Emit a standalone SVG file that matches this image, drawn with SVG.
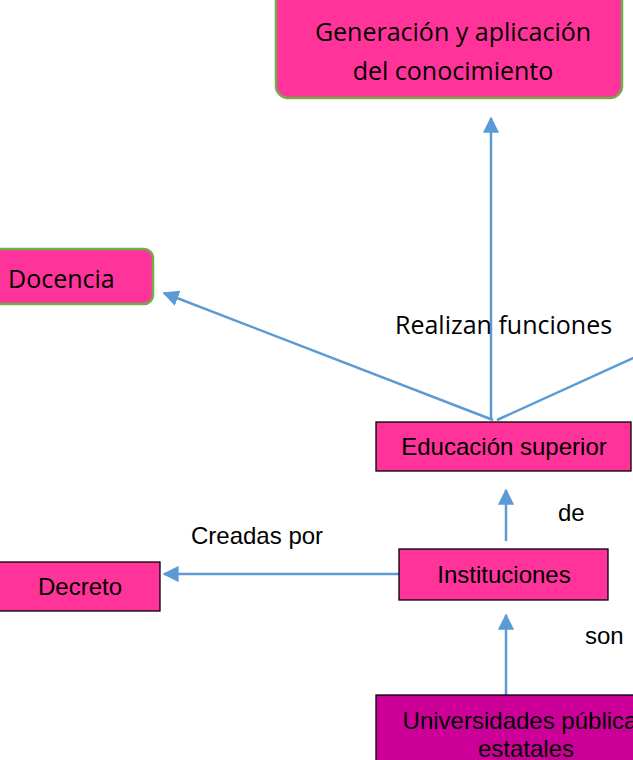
<svg xmlns="http://www.w3.org/2000/svg" width="633" height="760" viewBox="0 0 633 760">
<defs>
<style>
.rnd{fill:#FF3399;stroke:#70AD47;stroke-width:2.5}
.sq{fill:#FF3399;stroke:#000;stroke-width:1.3}
.sq2{fill:#CC0099;stroke:#000;stroke-width:1.3}
.cal{font-family:"Open Sans","Liberation Sans",sans-serif;font-size:25px;fill:#000}
.ari{font-family:"Liberation Sans",Arial,sans-serif;font-size:24px;fill:#000}
.ln{stroke:#5B9BD5;stroke-width:2.5;fill:none}
</style>
<marker id="ah" viewBox="0 0 10 10" refX="9" refY="5" markerWidth="6.5" markerHeight="6.5" markerUnits="strokeWidth" orient="auto">
<path d="M0,0 L10,5 L0,10 z" fill="#5B9BD5"/>
</marker>
</defs>
<g id="connectors">
<line class="ln" x1="491" y1="420" x2="491" y2="118" marker-end="url(#ah)"/>
<line class="ln" x1="493" y1="420" x2="164" y2="293" marker-end="url(#ah)"/>
<line class="ln" x1="497" y1="420" x2="640" y2="355"/>
<line class="ln" x1="506" y1="541" x2="506" y2="490" marker-end="url(#ah)"/>
<line class="ln" x1="399" y1="574" x2="164" y2="574" marker-end="url(#ah)"/>
<line class="ln" x1="506" y1="695" x2="506" y2="615" marker-end="url(#ah)"/>
</g>
<g id="generacion">
<rect class="rnd" x="276" y="-12" width="346" height="110" rx="12"/>
<text class="cal" x="453" y="41" text-anchor="middle">Generación y aplicación</text>
<text class="cal" x="453" y="80" text-anchor="middle">del conocimiento</text>
</g>
<g id="docencia">
<rect class="rnd" x="-20" y="249" width="173" height="55" rx="9"/>
<text class="cal" x="8" y="288">Docencia</text>
</g>
<g id="label-realizan">
<text class="cal" x="395" y="334">Realizan funciones</text>
</g>
<g id="educacion">
<rect class="sq" x="376" y="422" width="255" height="49"/>
<text class="ari" x="504" y="455" text-anchor="middle">Educación superior</text>
</g>
<g id="label-de">
<text class="ari" x="558" y="521">de</text>
</g>
<g id="label-creadas">
<text class="ari" x="191" y="544">Creadas por</text>
</g>
<g id="instituciones">
<rect class="sq" x="399" y="549" width="209" height="51"/>
<text class="ari" x="504" y="583" text-anchor="middle">Instituciones</text>
</g>
<g id="decreto">
<rect class="sq" x="-2" y="562" width="162" height="49"/>
<text class="ari" x="80" y="595" text-anchor="middle">Decreto</text>
</g>
<g id="label-son">
<text class="ari" x="585" y="644">son</text>
</g>
<g id="universidades">
<rect class="sq2" x="376" y="695" width="300" height="80"/>
<text class="ari" x="526" y="729" text-anchor="middle">Universidades públicas</text>
<text class="ari" x="526" y="757" text-anchor="middle">estatales</text>
</g>
</svg>
